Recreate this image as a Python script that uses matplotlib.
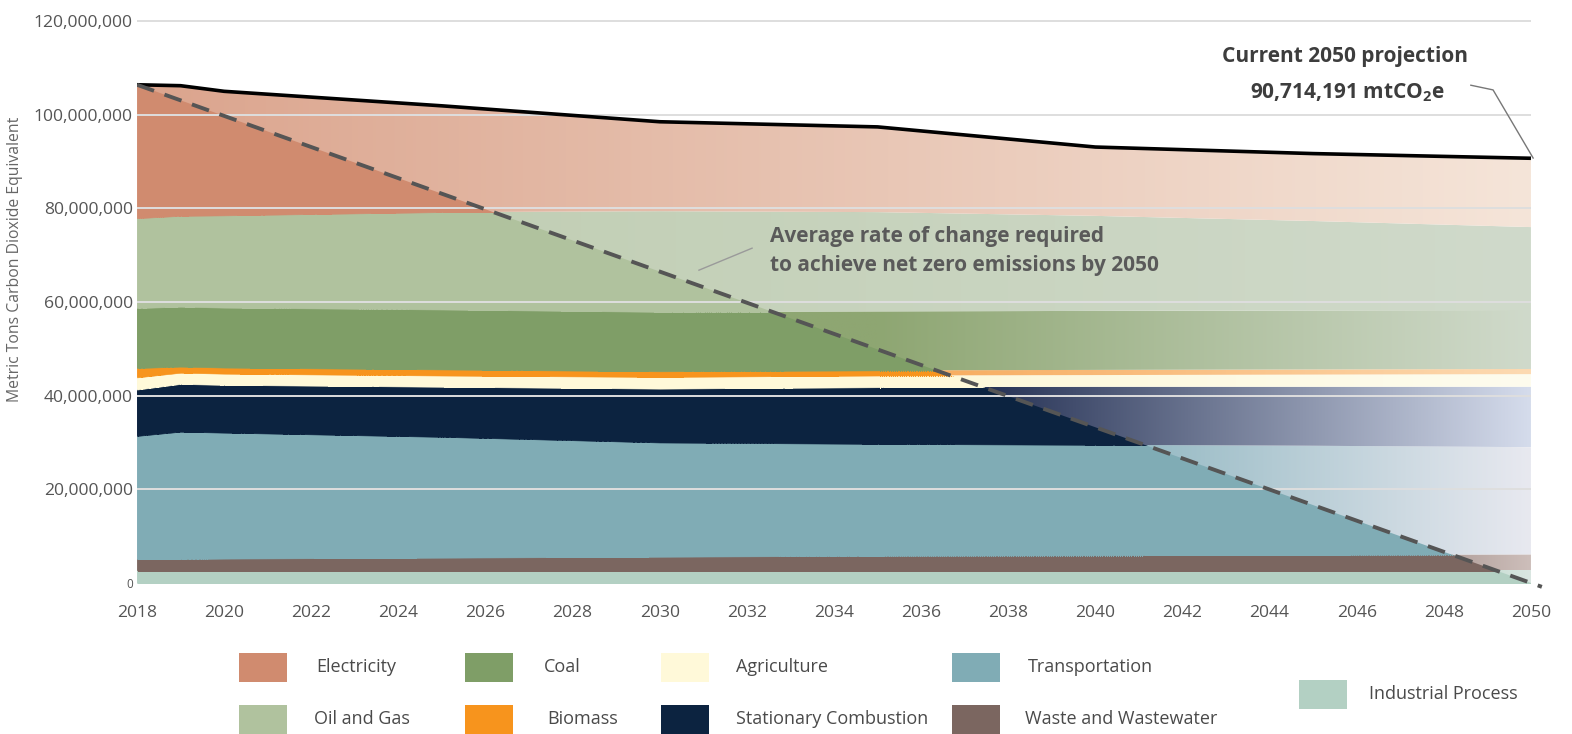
import numpy as np
import matplotlib
matplotlib.use("Agg")
import matplotlib.pyplot as plt
from matplotlib.patches import Polygon, Rectangle

plt.rcParams['font.family'] = ['Open Sans', 'DejaVu Sans']
plt.rcParams['lines.scale_dashes'] = False

# emissions by sector, million mtCO2e (stack order bottom -> top)
years = [2018, 2019, 2020, 2025, 2030, 2035, 2040, 2045, 2050]
industrial = [2.7, 2.7, 2.7, 2.7, 2.7, 2.7, 2.7, 2.7, 2.7]
waste = [2.4, 2.4, 2.5, 2.7, 2.9, 3.1, 3.2, 3.3, 3.4]
transportation = [26.3, 27.2, 26.9, 25.8, 24.4, 23.9, 23.6, 23.3, 22.9]
stationary = [9.9, 10.2, 10.2, 10.7, 11.5, 12.1, 12.4, 12.6, 12.9]
agriculture = [2.6, 2.4, 2.4, 2.4, 2.5, 2.5, 2.5, 2.6, 2.7]
biomass = [2.0, 1.3, 1.3, 1.3, 1.2, 1.1, 1.1, 1.1, 1.1]
coal = [12.8, 12.8, 12.8, 12.8, 12.7, 12.6, 12.6, 12.6, 12.6]
oil_gas = [19.2, 19.4, 19.7, 20.8, 21.5, 21.2, 20.3, 19.1, 17.7]
electricity = [28.5, 27.8, 26.5, 22.7, 19.1, 18.2, 14.7, 14.4, 14.7]

sectors = ["Industrial Process", "Waste and Wastewater", "Transportation",
           "Stationary Combustion", "Agriculture", "Biomass", "Coal",
           "Oil and Gas", "Electricity"]
series = [industrial, waste, transportation, stationary, agriculture,
          biomass, coal, oil_gas, electricity]

target_year = 2050
projection_label = "90,714,191"

# styles
full_colors = {
    "Industrial Process": "#b3d0c3",
    "Waste and Wastewater": "#7b6660",
    "Transportation": "#80acb5",
    "Stationary Combustion": "#0c2340",
    "Agriculture": "#fff9d9",
    "Biomass": "#f7941d",
    "Coal": "#7f9e67",
    "Oil and Gas": "#b0c29e",
    "Electricity": "#d08b6f",
}
# faded part above the dashed line: (year fade starts, colour there, colour at 2050)
fades = {
    "Industrial Process": (2049.0, (200, 222, 212), (218, 230, 225)),
    "Waste and Wastewater": (2047.5, (168, 150, 145), (205, 190, 186)),
    "Transportation": (2041.0, (150, 186, 196), (232, 233, 240)),
    "Stationary Combustion": (2037.5, (38, 50, 85), (213, 220, 236)),
    "Agriculture": (2036.5, (253, 248, 218), (254, 252, 238)),
    "Biomass": (2036.0, (247, 172, 95), (253, 218, 178)),
    "Coal": (2035.0, (142, 166, 114), (208, 218, 203)),
    "Oil and Gas": (2026.0, (194, 207, 181), (208, 218, 203)),
    "Electricity": (2018.0, (219, 164, 141), (245, 229, 217)),
}

yrs = np.array(years, dtype=float)
vals = np.array(series) * 1e6
tops = np.cumsum(vals, axis=0)
bottoms = tops - vals
total = tops[-1]

fig = plt.figure(figsize=(15.72, 7.34), dpi=100)
ax = fig.add_axes([0.08715, 0.18665, 0.9006, 0.79101])

gx = np.linspace(2018, 2050, 800)
below_dash = Polygon([(2018, total[0]), (target_year, 0), (target_year, -10e6), (2018, -10e6)],
                     closed=True, transform=ax.transData)

for name, bot, top in zip(sectors, bottoms, tops):
    t0, c0, c1 = fades[name]
    w = np.clip((gx - t0) / (2050 - t0), 0, 1)[:, None]
    grad = (np.array(c0) * (1 - w) + np.array(c1) * w) / 255.0
    band = Polygon(np.column_stack([np.r_[yrs, yrs[::-1]], np.r_[top, bot[::-1]]]),
                   closed=True, transform=ax.transData)
    im = ax.imshow(grad[None, :, :], extent=[2018, 2050, bot.min(), top.max()],
                   aspect='auto', origin='lower', interpolation='bilinear', zorder=1)
    im.set_clip_path(band)
    fb = ax.fill_between(yrs, bot, top, facecolor=full_colors[name],
                         edgecolor=full_colors[name], lw=0.4, zorder=2)
    fb.set_clip_path(below_dash)

# gridlines drawn over the areas
yt = np.arange(0, 121, 20) * 1e6
ax.hlines(yt[1:], 2018, 2050, color='#dedede', lw=1.4, zorder=3)

ax.plot(yrs, total, color='black', lw=2.6, zorder=5, solid_capstyle='butt')
ext = 2050.25
ax.plot([2018, ext], [total[0], total[0] * (1 - (ext - 2018) / (target_year - 2018))],
        color='#555555', lw=2.8, dashes=(13, 8), zorder=6)

ax.set_xlim(2018, 2050.5)
ax.set_ylim(-3e6, 121e6)
ax.set_xticks(range(2018, 2051, 2))
ax.set_yticks(yt)
ax.set_yticklabels([f"{int(v):,}" for v in yt])
ax.tick_params(length=0, labelsize=12.6, labelcolor='#555555')
ax.tick_params(axis='x', pad=6)
ax.tick_params(axis='y', pad=3)
ax.get_yticklabels()[0].set_fontsize(8.5)
for s in ax.spines.values():
    s.set_visible(False)

fig.text(0.0095, 0.647, "Metric Tons Carbon Dioxide Equivalent", rotation=90,
         ha='center', va='center', fontsize=11.3, color='#666666')

# annotations
ax.text(2045.72, 112.4e6, "Current 2050 projection", ha='center', va='center',
        fontweight='bold', fontsize=15, color='#3d3d3d', zorder=7)
ax.text(2045.78, 104.8e6, projection_label + r" mtCO$_\mathregular{2}$e", ha='center', va='center',
        fontweight='bold', fontsize=15, color='#3d3d3d', zorder=7)
ax.plot([2048.62, 2049.13, 2050.05], [106.3e6, 105.3e6, 90.75e6], color='#777777', lw=1, zorder=7)

ax.text(2032.53, 74.0e6, "Average rate of change required", ha='left', va='center',
        fontweight='bold', fontsize=15, color='#5a5a5a', zorder=7)
ax.text(2032.53, 67.8e6, "to achieve net zero emissions by 2050", ha='left', va='center',
        fontweight='bold', fontsize=15, color='#5a5a5a', zorder=7)
ax.plot([2032.12, 2030.9], [71.5e6, 66.8e6], color='#9a9a9a', lw=1, zorder=7)

# legend laid out by hand (pixel positions of the original)
W, H = 1572.0, 734.0
legend_items = [
    ("Electricity", 239, 316, 667), ("Coal", 465, 544, 667),
    ("Agriculture", 661, 736, 667), ("Transportation", 952, 1028, 667),
    ("Oil and Gas", 239, 314, 719), ("Biomass", 465, 547, 719),
    ("Stationary Combustion", 661, 736, 719), ("Waste and Wastewater", 952, 1025, 719),
    ("Industrial Process", 1299, 1369, 694),
]
for name, sx, tx, cy in legend_items:
    fig.add_artist(Rectangle((sx / W, 1 - (cy + 14.5) / H), 48 / W, 29 / H,
                             transform=fig.transFigure, facecolor=full_colors[name],
                             edgecolor='none'))
    fig.text(tx / W, 1 - cy / H, name, ha='left', va='center', fontsize=13, color='#4a4a4a')

fig.savefig("out.png", dpi=100)
